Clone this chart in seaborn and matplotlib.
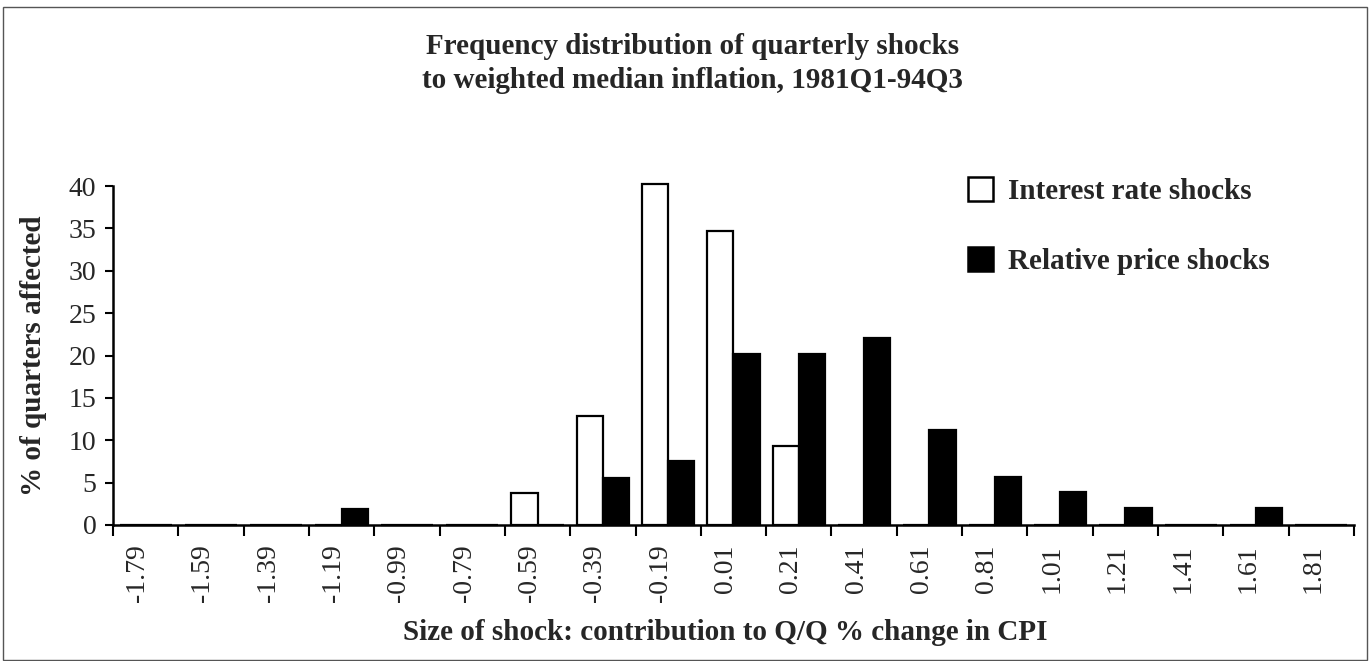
import matplotlib
matplotlib.use("Agg")
import matplotlib.pyplot as plt
import matplotlib.transforms as mtransforms
from matplotlib.patches import Patch, Rectangle
import seaborn as sns
import pandas as pd

categories = ["-1.79", "-1.59", "-1.39", "-1.19", "-0.99", "-0.79", "-0.59", "-0.39", "-0.19",
              "0.01", "0.21", "0.41", "0.61", "0.81", "1.01", "1.21", "1.41", "1.61", "1.81"]
interest_rate = [0, 0, 0, 0, 0, 0, 3.8, 12.9, 40.2, 34.7, 9.3, 0, 0, 0, 0, 0, 0, 0, 0]
relative_price = [0, 0, 0, 1.9, 0, 0, 0, 5.6, 7.5, 20.2, 20.2, 22.1, 11.2, 5.7, 3.9, 2.0, 0, 2.0, 0]
series_names = ["Interest rate shocks", "Relative price shocks"]
yticks = [0, 5, 10, 15, 20, 25, 30, 35, 40]

df = pd.DataFrame({
    "shock": categories * 2,
    "series": [series_names[0]] * len(categories) + [series_names[1]] * len(categories),
    "value": interest_rate + relative_price,
})

sns.set_theme(style="white")
plt.rcParams["font.family"] = ["Liberation Serif", "DejaVu Serif"]

W, H = 1371, 661
fig = plt.figure(figsize=(W / 100, H / 100), dpi=100)
ax_l, ax_r, ax_t, ax_b = 113, 1354, 186, 525
ax = fig.add_axes([ax_l / W, 1 - ax_b / H, (ax_r - ax_l) / W, (ax_b - ax_t) / H])

sns.barplot(data=df, x="shock", y="value", hue="series", order=categories,
            hue_order=series_names, palette={series_names[0]: "white", series_names[1]: "black"},
            edgecolor="black", linewidth=1.6, width=0.8, ax=ax, legend=False, saturation=1)
for p in ax.patches:
    p.set_clip_on(False)

ax.set_xlim(-0.5, len(categories) - 0.5)
ax.set_ylim(0, 40)
ax.set_yticks(yticks)
ax.set_yticklabels([str(v) for v in yticks], fontsize=20)
ax.set_xticks(range(len(categories)))
ax.set_xticklabels(categories, rotation=90, fontsize=20)
ax.set_xticks([i - 0.5 for i in range(len(categories) + 1)], minor=True)
ax.tick_params(axis="x", which="major", length=0, pad=14)
ax.tick_params(axis="x", which="minor", length=8, width=1.5, color="black", direction="out", bottom=True)
ax.tick_params(axis="y", length=6, width=1.5, color="black", direction="out", left=True, pad=6)
offset = mtransforms.ScaledTranslation(-8 / 100, 0, fig.dpi_scale_trans)
for lbl in ax.get_xticklabels():
    lbl.set_transform(lbl.get_transform() + offset)

for side in ["top", "right"]:
    ax.spines[side].set_visible(False)
for side in ["left", "bottom"]:
    ax.spines[side].set_color("black")
    ax.spines[side].set_linewidth(1.8)

axw, axh = ax_r - ax_l, ax_b - ax_t
ax.set_xlabel("Size of shock: contribution to Q/Q % change in CPI", fontsize=21,
              fontweight="bold")
ax.xaxis.set_label_coords(0.5 - 8 / axw, (ax_b - 619) / axh)
ax.set_ylabel("% of quarters affected", fontsize=21, fontweight="bold")
ax.yaxis.set_label_coords((47 - ax_l) / axw, 0.5)

fig.text(0.5 + 7 / W, 1 - 47 / H, "Frequency distribution of quarterly shocks",
         ha="center", va="center", fontsize=21, fontweight="bold")
fig.text(0.5 + 7 / W, 1 - 80 / H, "to weighted median inflation, 1981Q1-94Q3",
         ha="center", va="center", fontsize=21, fontweight="bold")

handles = [Patch(facecolor="white", edgecolor="black", linewidth=1.8),
           Patch(facecolor="black", edgecolor="black", linewidth=1.8)]
ax.legend(handles, series_names, loc="upper left", bbox_to_anchor=(0.668, 1.105),
          frameon=False, prop={"size": 21, "weight": "bold"}, handlelength=0.85,
          handleheight=0.9, labelspacing=1.45, handletextpad=0.5)

fig.add_artist(Rectangle((3 / W, 0.002), (1367 - 3) / W, (655 - 2) / H,
                         transform=fig.transFigure, fill=False, edgecolor="#555555", linewidth=1))

fig.savefig("out.png", dpi=100)
